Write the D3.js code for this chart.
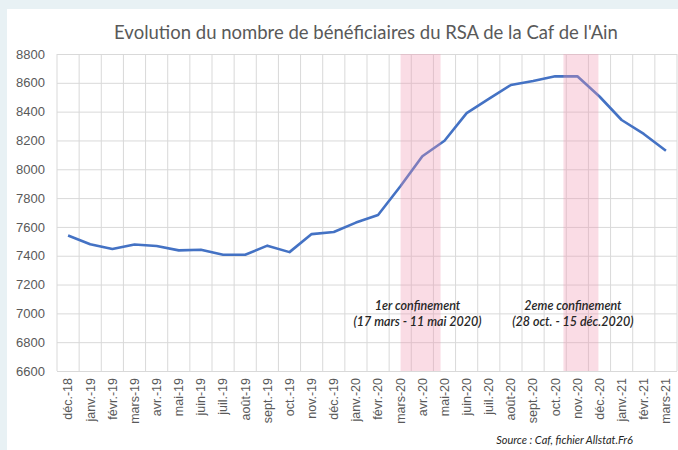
<!DOCTYPE html>
<html>
<head>
<meta charset="utf-8">
<script src="https://cdn.jsdelivr.net/npm/d3@7"></script>
<style>
  body { margin: 0; background: #e8f1f4; }
  svg { display: block; }
</style>
</head>
<body>
<div id="chart"></div>
<script>
const width = 678
const height = 450

const months = ["déc.-18", "janv.-19", "févr.-19", "mars-19", "avr.-19", "mai-19", "juin-19", "juil.-19",
  "août-19", "sept.-19", "oct.-19", "nov.-19", "déc.-19", "janv.-20", "févr.-20", "mars-20", "avr.-20",
  "mai-20", "juin-20", "juil.-20", "août-20", "sept.-20", "oct.-20", "nov.-20", "déc.-20", "janv.-21",
  "févr.-21", "mars-21"]
const beneficiaires = [7540, 7480, 7447, 7478, 7467, 7437, 7442, 7407, 7407, 7470, 7425, 7550, 7565,
  7630, 7683, 7880, 8090, 8198, 8390, 8488, 8585, 8613, 8645, 8645, 8505, 8342, 8245, 8128]
const yTicks = [6600, 6800, 7000, 7200, 7400, 7600, 7800, 8000, 8200, 8400, 8600, 8800]

// confinements: month label + day, day counts of that month
const confinements = [
  { start: ["mars-20", 17, 31], end: ["mai-20", 11, 31], label: "1er confinement", dates: "(17 mars - 11 mai 2020)" },
  { start: ["oct.-20", 28, 31], end: ["déc.-20", 15, 31], label: "2eme confinement", dates: "(28 oct. - 15 déc.2020)" }
]

const margin = { left: 57, right: 1, top: 54, bottom: 79 }

const svg = d3.select("#chart").append("svg")
  .attr("width", width)
  .attr("height", height)
  .style("font-family", "Lato, 'Open Sans', sans-serif")

// white panel
svg.append("rect")
  .attr("x", 7).attr("y", 9)
  .attr("width", width - 7).attr("height", height - 9)
  .attr("fill", "#fff")

const x = d3.scaleBand()
  .domain(months)
  .range([margin.left, width - margin.right])
  .padding(0)

const xi = d3.scaleLinear()
  .domain([0, months.length])
  .range([margin.left, width - margin.right])

const y = d3.scaleLinear()
  .domain([6600, 8800])
  .range([height - margin.bottom, margin.top])

// horizontal grid + y labels
const yAxis = svg.append("g")
  .attr("transform", `translate(${margin.left},0)`)
  .call(d3.axisLeft(y).tickValues(yTicks).tickSize(-(width - margin.left - margin.right)).tickPadding(12).tickFormat(d3.format("d")))
yAxis.select(".domain").remove()
yAxis.selectAll(".tick line").attr("stroke", "#d9d9d9")
yAxis.selectAll(".tick text")
  .attr("fill", "#595959")
  .style("font-size", "13px")

// vertical grid at category boundaries
svg.append("g")
  .selectAll("line")
  .data(d3.range(months.length + 1))
  .join("line")
  .attr("x1", d => xi(d)).attr("x2", d => xi(d))
  .attr("y1", y(8800)).attr("y2", y(6600))
  .attr("stroke", "#d9d9d9")

// x labels
const xAxis = svg.append("g")
  .attr("transform", `translate(0,${y(6600)})`)
  .call(d3.axisBottom(x).tickSize(0).tickPadding(0))
xAxis.select(".domain").remove()
xAxis.selectAll(".tick text")
  .attr("fill", "#595959")
  .style("font-size", "12.5px")
  .attr("text-anchor", "end")
  .attr("transform", "rotate(-90)")
  .attr("x", -7)
  .attr("y", 0)
  .attr("dy", "0.35em")

// line
const line = d3.line()
  .x((d, i) => x(months[i]) + x.bandwidth() / 2)
  .y(d => y(d))

svg.append("path")
  .datum(beneficiaires)
  .attr("fill", "none")
  .attr("stroke", "#4472c4")
  .attr("stroke-width", 2.6)
  .attr("stroke-linejoin", "round")
  .attr("d", line)

// confinement bands
const pos = ([m, day, n]) => xi(months.indexOf(m) + (day - 1) / n)

svg.append("g")
  .selectAll("rect")
  .data(confinements)
  .join("rect")
  .attr("x", d => pos(d.start))
  .attr("width", d => pos(d.end) - pos(d.start))
  .attr("y", y(8800))
  .attr("height", y(6600) - y(8800))
  .attr("fill", "rgb(240,150,175)")
  .attr("fill-opacity", 0.33)

// text boxes sit a bit off the band centre, as in the original
const noteShift = [-3, -8]
const noteX = (d, i) => (pos(d.start) + pos(d.end)) / 2 + noteShift[i]

const notes = svg.append("g")
  .selectAll("text")
  .data(confinements)
  .join("text")
  .attr("x", noteX)
  .attr("y", 310)
  .attr("text-anchor", "middle")
  .attr("fill", "#262626")
  .style("font-size", "12.5px")
  .style("font-style", "italic")
  .style("font-weight", "600")
notes.append("tspan").text(d => d.label)
notes.append("tspan")
  .attr("x", noteX)
  .attr("dy", 16)
  .text(d => d.dates)

// title
svg.append("text")
  .attr("x", 366)
  .attr("y", 39)
  .attr("text-anchor", "middle")
  .attr("fill", "#595959")
  .style("font-size", "18.5px")
  .text("Evolution du nombre de bénéficiaires du RSA de la Caf de l'Ain")

// source
svg.append("text")
  .attr("x", 633)
  .attr("y", 444)
  .attr("text-anchor", "end")
  .attr("fill", "#262626")
  .style("font-size", "11px")
  .style("font-style", "italic")
  .text("Source : Caf, fichier Allstat.Fr6")
</script>
</body>
</html>
